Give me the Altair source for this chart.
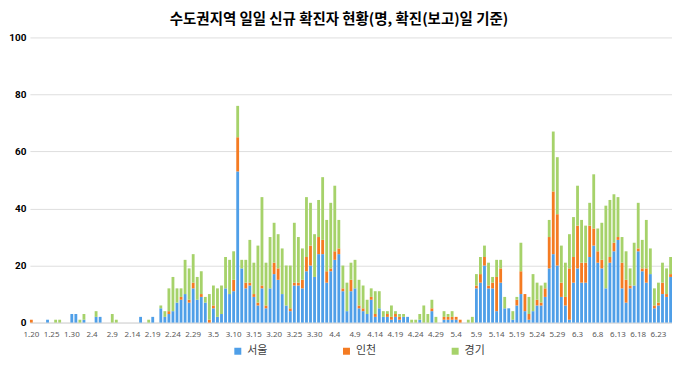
import altair as alt
import pandas as pd

# categories: daily dates 1.20 .. 6.26 (2020)
dates = [f"{d.month}.{d.day}" for d in pd.date_range("2020-01-20", "2020-06-26")]
tick_labels = dates[::5]

seoul = [0,0,0,0,1,0,0,0,0,0,3,3,0,1,0,0,2,2,0,0,
         0,0,0,0,0,0,0,2,0,0,2,0,5,2,3,4,7,8,10,7,
         12,8,9,7,0,5,2,3,12,10,11,53,19,12,13,9,6,12,5,12,
         17,15,10,6,4,13,13,12,18,20,16,24,24,14,18,22,24,11,4,11,
         12,5,4,3,8,2,5,2,2,1,2,1,2,2,0,0,1,0,0,4,
         0,0,1,1,1,1,0,0,0,0,12,14,20,12,12,4,14,5,5,1,
         6,10,4,1,4,6,6,9,19,24,20,9,6,1,14,19,14,14,23,27,
         21,19,12,21,25,29,12,7,12,13,25,18,14,17,5,6,10,9,16]

incheon = [1,0,0,0,0,0,0,0,0,0,0,0,0,0,0,0,0,0,0,0,
           0,0,0,0,0,0,0,0,0,0,0,0,0,0,1,0,0,1,0,1,
           2,0,1,0,1,1,0,0,0,0,4,12,0,2,1,1,1,1,1,0,
           4,4,0,0,1,1,1,3,5,7,0,6,5,4,1,3,2,1,0,4,
           0,1,1,0,1,1,0,0,1,1,1,1,0,0,0,0,0,0,0,1,
           0,0,1,1,1,1,1,0,0,0,1,3,3,1,2,12,5,0,0,0,
           2,8,6,2,0,2,1,3,11,22,18,5,3,18,9,15,7,7,11,6,
           4,3,0,2,3,1,9,8,1,0,1,1,5,0,1,1,4,1,1]

gyeonggi = [0,0,0,0,0,0,1,1,0,0,0,0,1,2,0,0,2,0,0,0,
            3,1,0,0,0,0,0,0,0,1,0,0,1,2,8,12,5,3,12,11,
            10,8,8,2,9,7,10,10,11,12,10,11,3,8,15,11,20,31,15,18,
            14,12,16,14,15,21,16,11,21,15,15,13,22,18,23,23,10,8,10,6,
            10,9,8,5,3,8,6,2,1,4,1,1,1,0,1,1,2,6,3,3,
            2,0,2,1,2,0,0,0,1,2,4,6,4,8,2,6,3,4,0,3,
            1,10,0,6,13,6,6,2,6,21,20,13,12,12,14,14,15,13,8,19,
            8,13,29,20,17,14,9,10,6,15,16,10,17,9,6,7,7,9,6]

series_names = ["서울", "인천", "경기"]
colors = ["#4f9fe8", "#f47b22", "#a6d26a"]

rows = []
for k, (name, vals) in enumerate(zip(series_names, [seoul, incheon, gyeonggi])):
    for d, v in zip(dates, vals):
        rows.append({"date": d, "region": name, "value": v, "ord": k})
df = pd.DataFrame(rows)

chart = alt.Chart(df).mark_bar().encode(
    x=alt.X("date:N", sort=dates, title=None,
            scale=alt.Scale(paddingInner=0.3, paddingOuter=0.0),
            axis=alt.Axis(values=tick_labels, labelAngle=0, labelFontSize=8,
                          labelColor="#595959", labelFont="Noto Sans",
                          ticks=False, domainColor="#d9d9d9", labelPadding=8)),
    y=alt.Y("value:Q", stack="zero", title=None,
            scale=alt.Scale(domain=[0, 100], nice=False),
            axis=alt.Axis(values=[0, 20, 40, 60, 80, 100], labelFontSize=10,
                          labelFontWeight="bold", labelColor="#000000",
                          labelFont="Roboto", ticks=False, domain=False,
                          gridColor="#dedede", labelPadding=4)),
    color=alt.Color("region:N", sort=series_names,
                    scale=alt.Scale(domain=series_names, range=colors),
                    legend=alt.Legend(orient="none", legendX=203, legendY=309,
                                      direction="horizontal", title=None,
                                      symbolType="square", symbolSize=49,
                                      symbolStrokeWidth=0, labelFontSize=11,
                                      labelFont="Noto Sans CJK KR",
                                      labelColor="#404040", columnPadding=73)),
    order=alt.Order("ord:Q", sort="ascending"),
).properties(
    width=644, height=286,
    title=alt.TitleParams("수도권지역 일일 신규 확진자 현황(명, 확진(보고)일 기준)",
                          font="Noto Sans CJK KR", fontSize=14.5, fontWeight="bold",
                          color="#000000", anchor="middle", offset=5, dx=-12),
    autosize=alt.AutoSizeParams(type="none"),
    padding={"left": 22, "top": 29, "right": 0, "bottom": 33},
).configure_view(stroke=None)

chart.save("out.html", embed_options={"renderer": "svg", "actions": False})
